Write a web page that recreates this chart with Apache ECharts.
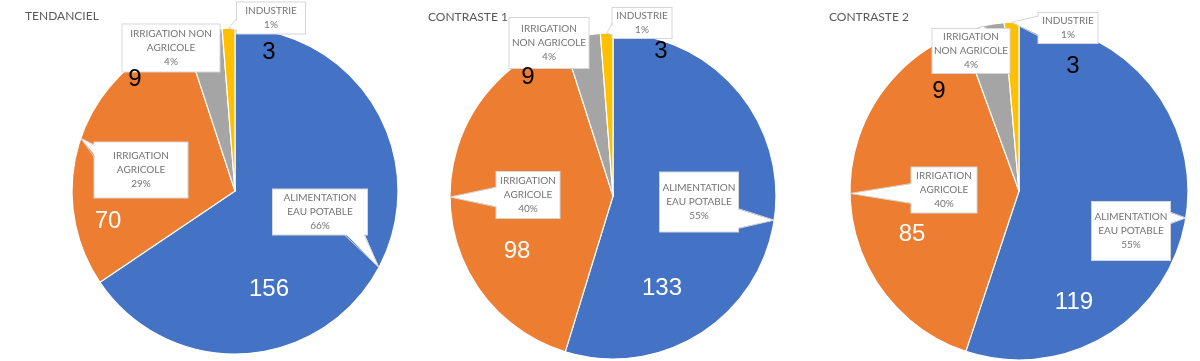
<!DOCTYPE html>
<html>
<head>
<meta charset="utf-8">
<script src="https://cdn.jsdelivr.net/npm/echarts@6/dist/echarts.min.js"></script>
<style>html,body{margin:0;padding:0;background:#fff}#c{width:1200px;height:361px}</style>
</head>
<body>
<div id="c"></div>
<script>
// ---- data ----
const categories = ['ALIMENTATION EAU POTABLE', 'IRRIGATION AGRICOLE', 'IRRIGATION NON AGRICOLE', 'INDUSTRIE'];
const titles = ['TENDANCIEL', 'CONTRASTE 1', 'CONTRASTE 2'];
const valuesTendanciel = [156, 70, 9, 3];
const valuesContraste1 = [133, 98, 9, 3];
const valuesContraste2 = [119, 85, 9, 3];
const pctTendanciel = [66, 29, 4, 1];
const pctContraste1 = [55, 40, 4, 1];
const pctContraste2 = [55, 40, 4, 1];

// ---- styles / layout ----
const colors = ['#4472C4', '#ED7D31', '#A5A5A5', '#FFC000'];
const numColors = ['#ffffff', '#ffffff', '#000000', '#000000'];
const layouts = [
  { center: [235, 191], r: 163, title: [25, 10], wrap: [1, 1, 2, 1],
    boxes: [[320, 212, 94, 45], [141, 170, 93, 55], [171, 48, 97, 47], [271, 18, 68, 31]],
    nums: [[269, 289], [108, 221], [135, 79], [269, 52]] },
  { center: [613, 196], r: 163, title: [428, 11], wrap: [1, 1, 1, 1],
    boxes: [[699, 202, 78, 59], [528, 195, 63, 46], [549, 43, 79, 50], [642, 23, 59, 30]],
    nums: [[662, 288], [517, 251], [528, 77], [661, 51]] },
  { center: [1019, 191], r: 169, title: [829, 11], wrap: [1, 1, 1, 1],
    boxes: [[1131, 231, 78, 58], [944, 190, 65, 45], [971, 51, 77, 44], [1068, 28, 59, 30]],
    nums: [[1074, 302], [912, 234], [939, 91], [1073, 66]] }
];
const allValues = [valuesTendanciel, valuesContraste1, valuesContraste2];
const allPct = [pctTendanciel, pctContraste1, pctContraste2];

function wrapName(name, at) {
  const w = name.split(' ');
  if (w.length <= at) return name;
  return w.slice(0, at).join(' ') + '\n' + w.slice(at).join(' ');
}
function clamp(v, a, b) { return Math.min(Math.max(v, a), b); }

// callout pointer (white wedge) from slice mid-angle on the rim to the box
function pointer(L, vals, i) {
  const total = vals.reduce(function (s, v) { return s + v; }, 0);
  let cum = 0;
  for (let k = 0; k < i; k++) cum += vals[k];
  const th = Math.PI / 2 - 2 * Math.PI * (cum + vals[i] / 2) / total;
  const tip = [L.center[0] + L.r * Math.cos(th), L.center[1] - L.r * Math.sin(th)];
  const b = L.boxes[i];
  const x0 = b[0] - b[2] / 2, x1 = b[0] + b[2] / 2, y0 = b[1] - b[3] / 2, y1 = b[1] + b[3] / 2;
  const d = { l: x0 - tip[0], r: tip[0] - x1, t: y0 - tip[1], b: tip[1] - y1 };
  let side = 'l';
  Object.keys(d).forEach(function (k) { if (d[k] > d[side]) side = k; });
  if (d[side] <= 0) return null;
  const hw = d[side] > 20 ? 10 : 6, ins = 2;
  let p1, p2, q1, q2;
  if (side === 'l' || side === 'r') {
    const ex = side === 'l' ? x0 : x1;
    const sgn = side === 'l' ? 1 : -1;
    const yc = clamp(tip[1], y0 + hw + 3, y1 - hw - 3);
    p1 = [ex, yc - hw]; p2 = [ex, yc + hw];
    q1 = [ex + sgn * ins, yc - hw]; q2 = [ex + sgn * ins, yc + hw];
  } else {
    const ey = side === 't' ? y0 : y1;
    const sgn = side === 't' ? 1 : -1;
    const xc = clamp(tip[0], x0 + hw + 3, x1 - hw - 3);
    p1 = [xc - hw, ey]; p2 = [xc + hw, ey];
    q1 = [xc - hw, ey + sgn * ins]; q2 = [xc + hw, ey + sgn * ins];
  }
  return [
    { type: 'polygon', z: 5, silent: true, shape: { points: [q1, tip, q2] },
      style: { fill: '#ffffff', stroke: null } },
    { type: 'polyline', z: 5, silent: true, shape: { points: [p1, tip, p2] },
      style: { stroke: '#d6d6d6', lineWidth: 1, fill: null } }
  ];
}

const LH = 14;
const series = [];
const titleOpts = [];
const graphics = [];
allValues.forEach(function (vals, p) {
  const L = layouts[p];
  const pct = allPct[p];
  titleOpts.push({
    text: titles[p], left: L.title[0], top: L.title[1], padding: 0,
    textStyle: { fontFamily: 'Lato', fontSize: 12, fontWeight: 'normal', color: '#595959' }
  });
  // slices
  series.push({
    type: 'pie', center: L.center, radius: L.r, startAngle: 90, clockwise: true,
    silent: true, z: 2,
    itemStyle: { borderColor: '#ffffff', borderWidth: 1.2 },
    data: vals.map(function (v, i) {
      return { value: v, name: categories[i], itemStyle: { color: colors[i] } };
    }),
    label: { show: false }, labelLine: { show: false },
    emphasis: { disabled: true }
  });
  // callout boxes
  series.push({
    type: 'pie', center: L.center, radius: L.r, startAngle: 90, clockwise: true,
    silent: true, z: 4,
    itemStyle: { color: 'rgba(0,0,0,0)', borderWidth: 0 },
    data: vals.map(function (v, i) {
      const b = L.boxes[i];
      const text = wrapName(categories[i], L.wrap[i]) + '\n' + pct[i] + '%';
      const lines = text.split('\n').length;
      const pv = Math.max(0, (b[3] - lines * LH) / 2);
      return {
        value: v, name: categories[i],
        label: { formatter: text, width: b[2], padding: [pv, 0, pv, 0], align: 'center' }
      };
    }),
    label: {
      show: true, fontFamily: 'Lato', fontSize: 10, lineHeight: LH, color: '#747474',
      backgroundColor: '#ffffff', borderColor: '#d6d6d6', borderWidth: 1, overflow: 'none'
    },
    labelLine: { show: false },
    labelLayout: function (params) {
      const b = L.boxes[params.dataIndex];
      return { x: b[0], y: b[1], align: 'center', verticalAlign: 'middle' };
    },
    emphasis: { disabled: true }
  });
  // value labels
  series.push({
    type: 'pie', center: L.center, radius: L.r, startAngle: 90, clockwise: true,
    silent: true, z: 6,
    itemStyle: { color: 'rgba(0,0,0,0)', borderWidth: 0 },
    data: vals.map(function (v, i) {
      return { value: v, name: categories[i], label: { color: numColors[i] } };
    }),
    label: {
      show: true, formatter: '{c}', overflow: 'none', width: 80, align: 'center',
      fontFamily: 'Liberation Sans', fontSize: 24
    },
    labelLine: { show: false },
    labelLayout: function (params) {
      const n = L.nums[params.dataIndex];
      return { x: n[0], y: n[1], align: 'center', verticalAlign: 'middle' };
    },
    emphasis: { disabled: true }
  });
  vals.forEach(function (v, i) {
    const g = pointer(L, vals, i);
    if (g) g.forEach(function (e) { graphics.push(e); });
  });
});

const chart = echarts.init(document.getElementById('c'), null, { renderer: 'canvas' });
chart.setOption({
  animation: false,
  backgroundColor: '#ffffff',
  title: titleOpts,
  series: series,
  graphic: { elements: graphics }
});
</script>
</body>
</html>
